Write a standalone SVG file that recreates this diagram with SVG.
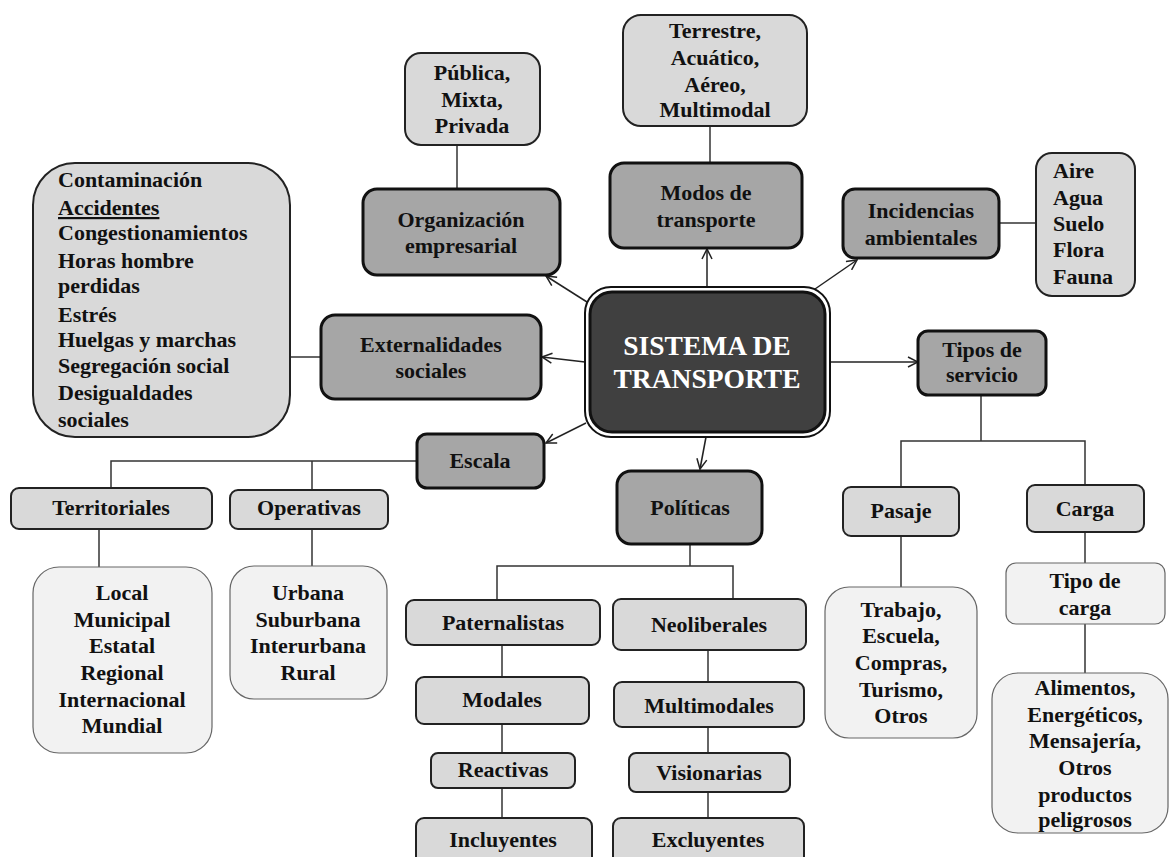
<svg xmlns="http://www.w3.org/2000/svg" width="1169" height="857" viewBox="0 0 1169 857">
<style>
text{font-family:"Liberation Serif","Times New Roman",serif;font-weight:bold;font-size:22px;fill:#111;}
.c{text-anchor:middle;}
.mid{fill:#a6a6a6;stroke:#111;stroke-width:3;}
.lt{fill:#d9d9d9;stroke:#222;stroke-width:2;}
.pale{fill:#f2f2f2;stroke:#666;stroke-width:1.2;}
.ln{stroke:#333;stroke-width:1.5;fill:none;}
.ar{stroke:#222;stroke-width:1.5;fill:none;marker-end:url(#v);}
.big{fill:#fff;font-size:27.5px;}
</style>
<defs>
<marker id="v" viewBox="0 0 12 12" refX="11" refY="6" markerWidth="12" markerHeight="12" markerUnits="userSpaceOnUse" orient="auto">
<path d="M1,1 L11,6 L1,11" fill="none" stroke="#222" stroke-width="1.5"/>
</marker>
</defs>
<rect width="1169" height="857" fill="#fff"/>

<g id="connectors">
<line class="ar" x1="707" y1="287" x2="707" y2="249"/>
<line class="ar" x1="587" y1="302" x2="546" y2="276"/>
<line class="ar" x1="815" y1="289" x2="857" y2="260"/>
<line class="ar" x1="585" y1="362" x2="542" y2="357"/>
<line class="ar" x1="830" y1="362" x2="918" y2="362"/>
<line class="ar" x1="586" y1="423" x2="546" y2="443"/>
<line class="ar" x1="706" y1="437" x2="700" y2="469"/>
<line class="ln" x1="457" y1="145" x2="457" y2="189"/>
<line class="ln" x1="710" y1="126" x2="710" y2="163"/>
<line class="ln" x1="999" y1="223" x2="1036" y2="223"/>
<line class="ln" x1="290" y1="357" x2="321" y2="357"/>
<polyline class="ln" points="111,488 111,461 417,461"/>
<line class="ln" x1="312" y1="461" x2="312" y2="490"/>
<line class="ln" x1="99" y1="529" x2="99" y2="567"/>
<line class="ln" x1="312" y1="529" x2="312" y2="566"/>
<line class="ln" x1="690" y1="544" x2="690" y2="566"/>
<polyline class="ln" points="497,600 497,566 733,566 733,599"/>
<line class="ln" x1="502" y1="645" x2="502" y2="677"/>
<line class="ln" x1="502" y1="724" x2="502" y2="753"/>
<line class="ln" x1="502" y1="788" x2="502" y2="818"/>
<line class="ln" x1="708" y1="650" x2="708" y2="682"/>
<line class="ln" x1="708" y1="727" x2="708" y2="753"/>
<line class="ln" x1="708" y1="792" x2="708" y2="818"/>
<line class="ln" x1="981" y1="395" x2="981" y2="441"/>
<polyline class="ln" points="901,487 901,441 1085,441 1085,485"/>
<line class="ln" x1="901" y1="536" x2="901" y2="587"/>
<line class="ln" x1="1085" y1="532" x2="1085" y2="563"/>
<line class="ln" x1="1085" y1="624" x2="1085" y2="673"/>
</g>

<g id="central">
<rect x="585" y="287" width="245" height="150" rx="26" fill="#fff" stroke="#111" stroke-width="2"/>
<rect x="590" y="292" width="235" height="140" rx="22" fill="#404040" stroke="#111" stroke-width="3"/>
<text class="c big" x="707" y="355">SISTEMA DE</text>
<text class="c big" x="707" y="388">TRANSPORTE</text>
</g>

<g id="publica">
<rect class="lt" x="405" y="53" width="135" height="92" rx="16"/>
<text class="c" x="472" y="80">Pública,</text>
<text class="c" x="472" y="107">Mixta,</text>
<text class="c" x="472" y="133">Privada</text>
</g>

<g id="organizacion">
<rect class="mid" x="363" y="189" width="197" height="86" rx="14"/>
<text class="c" x="461" y="227">Organización</text>
<text class="c" x="461" y="253">empresarial</text>
</g>

<g id="terrestre">
<rect class="lt" x="623" y="15" width="184" height="111" rx="18"/>
<text class="c" x="715" y="38">Terrestre,</text>
<text class="c" x="715" y="65">Acuático,</text>
<text class="c" x="715" y="92">Aéreo,</text>
<text class="c" x="715" y="117">Multimodal</text>
</g>

<g id="modos">
<rect class="mid" x="610" y="163" width="192" height="85" rx="14"/>
<text class="c" x="706" y="200">Modos de</text>
<text class="c" x="706" y="227">transporte</text>
</g>

<g id="incidencias">
<rect class="mid" x="843" y="189" width="156" height="69" rx="12"/>
<text class="c" x="921" y="218">Incidencias</text>
<text class="c" x="921" y="245">ambientales</text>
</g>

<g id="aire">
<rect class="lt" x="1036" y="153" width="99" height="143" rx="16"/>
<text x="1053" y="178">Aire</text>
<text x="1053" y="205">Agua</text>
<text x="1053" y="231">Suelo</text>
<text x="1053" y="257">Flora</text>
<text x="1053" y="284">Fauna</text>
</g>

<g id="contaminacion">
<rect class="lt" x="33" y="163" width="257" height="274" rx="42"/>
<text x="58" y="187">Contaminación</text>
<text x="58" y="215" text-decoration="underline">Accidentes</text>
<text x="58" y="240">Congestionamientos</text>
<text x="58" y="268">Horas hombre</text>
<text x="58" y="293">perdidas</text>
<text x="58" y="322">Estrés</text>
<text x="58" y="347">Huelgas y marchas</text>
<text x="58" y="373">Segregación social</text>
<text x="58" y="400">Desigualdades</text>
<text x="58" y="427">sociales</text>
</g>

<g id="externalidades">
<rect class="mid" x="321" y="315" width="220" height="84" rx="14"/>
<text class="c" x="431" y="352">Externalidades</text>
<text class="c" x="431" y="378">sociales</text>
</g>

<g id="tipos">
<rect class="mid" x="918" y="331" width="128" height="64" rx="10"/>
<text class="c" x="982" y="357">Tipos de</text>
<text class="c" x="982" y="382">servicio</text>
</g>

<g id="escala">
<rect class="mid" x="417" y="434" width="127" height="54" rx="10"/>
<text class="c" x="480" y="468">Escala</text>
</g>

<g id="territoriales">
<rect class="lt" x="11" y="488" width="201" height="41" rx="8"/>
<text class="c" x="111" y="515">Territoriales</text>
</g>

<g id="operativas">
<rect class="lt" x="230" y="490" width="158" height="39" rx="8"/>
<text class="c" x="309" y="515">Operativas</text>
</g>

<g id="local">
<rect class="pale" x="33" y="567" width="179" height="186" rx="26"/>
<text class="c" x="122" y="600">Local</text>
<text class="c" x="122" y="627">Municipal</text>
<text class="c" x="122" y="653">Estatal</text>
<text class="c" x="122" y="680">Regional</text>
<text class="c" x="122" y="707">Internacional</text>
<text class="c" x="122" y="733">Mundial</text>
</g>

<g id="urbana">
<rect class="pale" x="230" y="566" width="157" height="133" rx="24"/>
<text class="c" x="308" y="600">Urbana</text>
<text class="c" x="308" y="627">Suburbana</text>
<text class="c" x="308" y="653">Interurbana</text>
<text class="c" x="308" y="680">Rural</text>
</g>

<g id="politicas">
<rect class="mid" x="617" y="471" width="145" height="73" rx="14"/>
<text class="c" x="690" y="515">Políticas</text>
</g>

<g id="paternalistas">
<rect class="lt" x="406" y="600" width="194" height="45" rx="8"/>
<text class="c" x="503" y="630">Paternalistas</text>
</g>
<g id="modales">
<rect class="lt" x="416" y="677" width="173" height="47" rx="8"/>
<text class="c" x="502" y="707">Modales</text>
</g>
<g id="reactivas">
<rect class="lt" x="431" y="753" width="144" height="35" rx="7"/>
<text class="c" x="503" y="777">Reactivas</text>
</g>
<g id="incluyentes">
<rect class="lt" x="416" y="818" width="176" height="50" rx="8"/>
<text class="c" x="503" y="847">Incluyentes</text>
</g>

<g id="neoliberales">
<rect class="lt" x="613" y="599" width="193" height="51" rx="8"/>
<text class="c" x="709" y="632">Neoliberales</text>
</g>
<g id="multimodales">
<rect class="lt" x="614" y="682" width="190" height="45" rx="8"/>
<text class="c" x="709" y="713">Multimodales</text>
</g>
<g id="visionarias">
<rect class="lt" x="629" y="753" width="161" height="39" rx="7"/>
<text class="c" x="709" y="780">Visionarias</text>
</g>
<g id="excluyentes">
<rect class="lt" x="613" y="818" width="191" height="50" rx="8"/>
<text class="c" x="708" y="847">Excluyentes</text>
</g>

<g id="pasaje">
<rect class="lt" x="843" y="487" width="116" height="49" rx="8" stroke-width="2.5"/>
<text class="c" x="901" y="518">Pasaje</text>
</g>
<g id="carga">
<rect class="lt" x="1027" y="485" width="117" height="47" rx="8" stroke-width="2.5"/>
<text class="c" x="1085" y="516">Carga</text>
</g>
<g id="trabajo">
<rect class="pale" x="825" y="587" width="152" height="151" rx="24"/>
<text class="c" x="901" y="617">Trabajo,</text>
<text class="c" x="901" y="643">Escuela,</text>
<text class="c" x="901" y="670">Compras,</text>
<text class="c" x="901" y="697">Turismo,</text>
<text class="c" x="901" y="723">Otros</text>
</g>
<g id="tipocarga">
<rect class="pale" x="1006" y="563" width="159" height="61" rx="10"/>
<text class="c" x="1085" y="588">Tipo de</text>
<text class="c" x="1085" y="615">carga</text>
</g>
<g id="alimentos">
<rect class="pale" x="992" y="673" width="176" height="160" rx="26"/>
<text class="c" x="1085" y="695">Alimentos,</text>
<text class="c" x="1085" y="722">Energéticos,</text>
<text class="c" x="1085" y="748">Mensajería,</text>
<text class="c" x="1085" y="775">Otros</text>
<text class="c" x="1085" y="802">productos</text>
<text class="c" x="1085" y="827">peligrosos</text>
</g>
</svg>
